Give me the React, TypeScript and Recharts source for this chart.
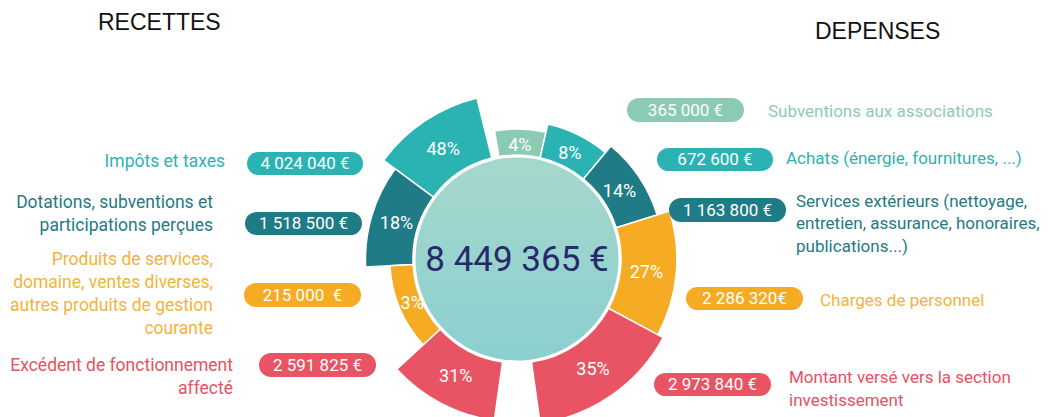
import React from 'react';
import { PieChart, Pie, Sector } from 'recharts';

const TOTAL = 8449365;
const TOTAL_LABEL = '8 449 365 €';

const recettesNames = [
  'Impôts et taxes',
  'Dotations, subventions et\nparticipations perçues',
  'Produits de services,\ndomaine, ventes diverses,\nautres produits de gestion\ncourante',
  'Excédent de fonctionnement\naffecté',
];
const recettesValues = [4024040, 1518500, 215000, 2591825];
const recettesAmountLabels = ['4 024 040 €', '1 518 500 €', '215 000  €', '2 591 825 €'];
const recettesPct = [48, 18, 3, 31];

const depensesNames = [
  'Subventions aux associations',
  'Achats (énergie, fournitures, ...)',
  'Services extérieurs (nettoyage,\nentretien, assurance, honoraires,\npublications...)',
  'Charges de personnel',
  'Montant versé vers la section\ninvestissement',
];
const depensesValues = [365000, 672600, 1163800, 2286320, 2973840];
const depensesAmountLabels = ['365 000 €', '672 600 €', '1 163 800 €', '2 286 320€', '2 973 840 €'];
const depensesPct = [4, 8, 14, 27, 35];

// colours
const TEAL = '#2bb3b4';
const DARK_TEAL = '#1f7b86';
const MINT = '#8ccbb3';
const YELLOW = '#f5ac24';
const RED = '#e95464';
const recettesColors = [TEAL, DARK_TEAL, YELLOW, RED];
const depensesColors = [MINT, TEAL, DARK_TEAL, YELLOW, RED];
const recettesTextColors = ['#2fb1b3', '#237a85', '#f3b33c', '#e8515f'];
const depensesTextColors = ['#8ecab6', '#2fb1b3', '#237a85', '#f3b33c', '#e8515f'];

// layout of the side labels
const recettesLayout = [
  { right: 825, top: 149.5, pill: [247, 152, 116, 23] },
  { right: 837, top: 190.5, pill: [245, 212, 117, 23] },
  { right: 837, top: 247.5, pill: [244, 283, 117, 24] },
  { right: 817, top: 353.5, pill: [259, 353, 117, 24] },
];
const depensesLayout = [
  { left: 768, top: 99.5, pill: [627, 98, 117, 24] },
  { left: 786, top: 146.5, pill: [657, 148, 116, 23] },
  { left: 796, top: 189.5, pill: [669, 198, 117, 24] },
  { left: 820, top: 288.5, pill: [686, 287, 117, 23] },
  { left: 789, top: 366, pill: [654, 373, 117, 23] },
];

const recettesData = recettesNames.map((name, i) => ({
  name,
  value: recettesValues[i],
  pct: recettesPct[i],
}));
const depensesData = depensesNames.map((name, i) => ({
  name,
  value: depensesValues[i],
  pct: depensesPct[i],
}));
const totalData = [{ name: 'Total', value: TOTAL }];

const CX = 517;
const CY = 259;
const INNER = 104;
const RAD = Math.PI / 180;

// radius grows with the share, angles are compressed so small items stay readable
const wedgeRadius = (pct: number) => 104 + 62 * Math.pow(Math.min(pct, 35) / 35, 0.4);
const recettesWeight = () => 1;
const depensesWeight = (d: any) => d.pct + 19;

const makeWedge = (colors: string[]) => (props: any) => {
  const { cx, cy, startAngle, endAngle, innerRadius, index, payload } = props;
  const outer = wedgeRadius(payload.pct);
  const mid = (startAngle + endAngle) / 2;
  const r = (innerRadius + outer) / 2 - 2;
  return (
    <g>
      <Sector
        cx={cx}
        cy={cy}
        innerRadius={innerRadius}
        outerRadius={outer}
        startAngle={startAngle}
        endAngle={endAngle}
        fill={colors[index]}
        stroke="#fff"
        strokeWidth={1.5}
      />
      <text
        x={cx + r * Math.cos(-mid * RAD)}
        y={cy + r * Math.sin(-mid * RAD)}
        fill="#fff"
        fontSize={18}
        fontFamily="Roboto"
        textAnchor="middle"
        dominantBaseline="central"
      >
        {payload.pct}%
      </text>
    </g>
  );
};

const centerLabel = (props: any) => (
  <text
    x={props.cx}
    y={props.cy}
    fill="#27296b"
    fontSize={35}
    fontFamily="Roboto"
    textAnchor="middle"
    dominantBaseline="central"
  >
    {TOTAL_LABEL}
  </text>
);

const pillStyle = (p: number[], color: string): React.CSSProperties => ({
  position: 'absolute',
  left: p[0],
  top: p[1],
  width: p[2],
  height: p[3],
  lineHeight: `${p[3]}px`,
  borderRadius: p[3] / 2,
  background: color,
  color: '#fff',
  fontSize: 17,
  textAlign: 'center',
  whiteSpace: 'pre',
});

const App = () => (
  <div
    style={{
      position: 'absolute',
      left: 0,
      top: 0,
      width: 1050,
      height: 417,
      overflow: 'hidden',
      background: '#fff',
      fontFamily: 'Roboto, sans-serif',
    }}
  >
    <svg width={0} height={0} style={{ position: 'absolute' }}>
      <defs>
        <linearGradient id="centerFill" x1="0" y1="0" x2="0" y2="1">
          <stop offset="0%" stopColor="#a5d8cc" />
          <stop offset="100%" stopColor="#8ccfd0" />
        </linearGradient>
      </defs>
    </svg>
    <PieChart width={1050} height={417} margin={{ top: 0, right: 0, bottom: 0, left: 0 }}>
      <Pie
        data={totalData}
        dataKey="value"
        cx={CX}
        cy={CY}
        innerRadius={0}
        outerRadius={101.5}
        startAngle={90}
        endAngle={-270}
        fill="url(#centerFill)"
        stroke="none"
        label={centerLabel}
        labelLine={false}
        isAnimationActive={false}
      />
      <Pie
        data={recettesData}
        dataKey={recettesWeight}
        cx={CX}
        cy={CY}
        innerRadius={INNER}
        outerRadius={INNER + 1}
        startAngle={104}
        endAngle={262}
        fill="none"
        stroke="none"
        label={makeWedge(recettesColors)}
        labelLine={false}
        isAnimationActive={false}
      />
      <Pie
        data={depensesData}
        dataKey={depensesWeight}
        cx={CX}
        cy={CY}
        innerRadius={INNER}
        outerRadius={INNER + 1}
        startAngle={100}
        endAngle={-82}
        fill="none"
        stroke="none"
        label={makeWedge(depensesColors)}
        labelLine={false}
        isAnimationActive={false}
      />
    </PieChart>

    <div style={{ position: 'absolute', left: 98, top: 10.5, fontFamily: 'Liberation Sans', fontSize: 23, lineHeight: '23px', color: '#111' }}>
      RECETTES
    </div>
    <div style={{ position: 'absolute', left: 815, top: 19.5, fontFamily: 'Liberation Sans', fontSize: 23, lineHeight: '23px', color: '#111' }}>
      DEPENSES
    </div>

    {recettesNames.map((name, i) => (
      <React.Fragment key={name}>
        <div
          style={{
            position: 'absolute',
            right: recettesLayout[i].right,
            top: recettesLayout[i].top,
            fontSize: 17.5,
            lineHeight: '23px',
            color: recettesTextColors[i],
            textAlign: 'right',
            whiteSpace: 'pre',
          }}
        >
          {name}
        </div>
        <div style={pillStyle(recettesLayout[i].pill, recettesColors[i])}>{recettesAmountLabels[i]}</div>
      </React.Fragment>
    ))}

    {depensesNames.map((name, i) => (
      <React.Fragment key={name}>
        <div
          style={{
            position: 'absolute',
            left: depensesLayout[i].left,
            top: depensesLayout[i].top,
            fontSize: 17,
            lineHeight: '22.5px',
            color: depensesTextColors[i],
            whiteSpace: 'pre',
          }}
        >
          {name}
        </div>
        <div style={pillStyle(depensesLayout[i].pill, depensesColors[i])}>{depensesAmountLabels[i]}</div>
      </React.Fragment>
    ))}
  </div>
);

export default App;
